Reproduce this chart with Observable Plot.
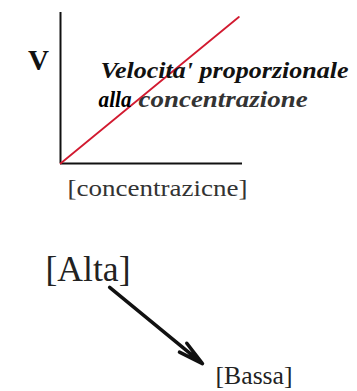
<!DOCTYPE html>
<html>
<head>
<meta charset="utf-8">
<script src="https://cdn.jsdelivr.net/npm/d3@7"></script>
<script src="https://cdn.jsdelivr.net/npm/@observablehq/plot@0.6"></script>
<style>
  html, body { margin: 0; padding: 0; background: #fff; }
  #chart svg { display: block; }
</style>
</head>
<body>
<div id="chart"></div>
<script>
// Reaction rate grows in proportion to substrate concentration.
const concentration = [0, 0.98];
const velocity = [0, 0.97];

// Text drawn on the diagram
const axisLabelY = "V";
const axisLabelX = "[concentrazicne]";
const noteLine1 = "Velocita' proporzionale";
const noteLine2a = "alla";
const noteLine2b = "concentrazione";
const highLabel = "[Alta]";
const lowLabel = "[Bassa]";

// Gradient arrow from high to low concentration (in chart units)
const gradientFrom = [0.27, -0.82];
const gradientTo = [0.78, -1.325];

const serif = "'Liberation Serif', 'Times New Roman', serif";
const line = concentration.map((c, i) => ({c, v: velocity[i]}));
const t = {fontFamily: serif, clip: false, textAnchor: "start", lineAnchor: "bottom", text: d => d};

// The typeset labels run wide; stretch each to its set width (px)
const setWidths = new Map([
  [noteLine1, 248],
  [noteLine2a, 33],
  [noteLine2b, 169],
  [axisLabelX, 180],
  [highLabel, 85],
  [lowLabel, 77]
]);

const chart = Plot.plot({
  width: 357,
  height: 391,
  marginLeft: 60,
  marginRight: 115,
  marginTop: 12,
  marginBottom: 228,
  x: {domain: [0, 1], axis: null},
  y: {domain: [0, 1], axis: null},
  style: {fontFamily: serif, background: "#fff"},
  marks: [
    // axes drawn as plain lines
    Plot.ruleX([0], {y1: 0, y2: 1, stroke: "#111", strokeWidth: 2}),
    Plot.ruleY([0], {x1: 0, x2: 1, stroke: "#111", strokeWidth: 2}),
    // proportional relationship
    Plot.line(line, {x: "c", y: "v", stroke: "#d21a30", strokeWidth: 1.8}),
    Plot.text([axisLabelY], {...t, x: -0.121, y: 0.616, fontSize: 29, fontWeight: "bold", textAnchor: "middle", fill: "#111"}),
    Plot.text([noteLine1], {...t, x: 0.22, y: 0.563, fontSize: 24, fontWeight: "bold", fontStyle: "italic", fill: "#111"}),
    Plot.text([noteLine2a], {...t, x: 0.209, y: 0.371, fontSize: 24, fontWeight: "bold", fontStyle: "italic", fill: "#000"}),
    Plot.text([noteLine2b], {...t, x: 0.429, y: 0.371, fontSize: 24, fontWeight: "bold", fontStyle: "italic", fill: "#333"}),
    Plot.text([axisLabelX], {...t, x: 0.0385, y: -0.212, fontSize: 23, fill: "#333"}),
    Plot.text([highLabel], {...t, x: -0.0824, y: -0.781, fontSize: 35, fill: "#222"}),
    Plot.arrow([0], {x1: gradientFrom[0], y1: gradientFrom[1], x2: gradientTo[0], y2: gradientTo[1], stroke: "#111", strokeWidth: 3.5, headAngle: 26, headLength: 11, clip: false}),
    Plot.text([lowLabel], {...t, x: 0.852, y: -1.457, fontSize: 26, fill: "#222"})
  ]
});
chart.style.overflow = "visible";
d3.select(chart).selectAll("text").each(function () {
  const w = setWidths.get(this.textContent);
  if (w) {
    this.setAttribute("textLength", w);
    this.setAttribute("lengthAdjust", "spacingAndGlyphs");
  }
});
document.getElementById("chart").append(chart);
</script>
</body>
</html>
